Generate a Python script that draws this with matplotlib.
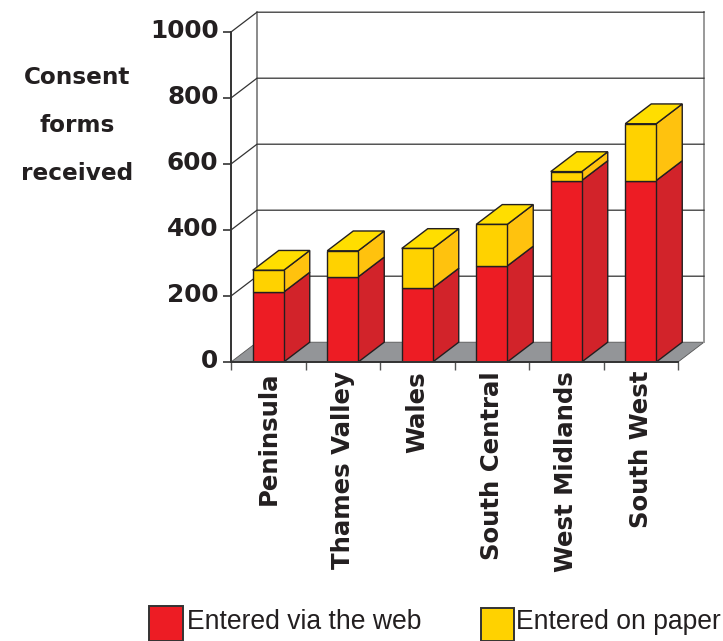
import matplotlib

matplotlib.use("Agg")

import matplotlib.pyplot as plt
from matplotlib.patches import Rectangle
from matplotlib.transforms import ScaledTranslation

regions = ["Peninsula", "Thames Valley", "Wales", "South Central", "West Midlands", "South West"]
web = [212, 258, 224, 291, 550, 550]
paper = [66, 79, 120, 126, 27, 172]
y_ticks = [0, 200, 400, 600, 800, 1000]

RED, RED_SIDE = "#ED1C24", "#D2232A"
YEL, YEL_SIDE, YEL_TOP = "#FFD200", "#FFC20E", "#FFDE00"
EDGE = "#231F20"
FLOOR = "#939598"

W, H = 723, 641
# 3d offset of the chart, in data units
DX, DY = 0.349, 60
BAR_W = 0.416


def box(ax, i, bottom, height, front, side, top=None):
    x0 = i + 0.5 - BAR_W / 2
    x1 = x0 + BAR_W
    y0, y1 = bottom, bottom + height
    ax.bar(i + 0.5, height, BAR_W, bottom=bottom, color=front, edgecolor=EDGE, linewidth=1, zorder=5)
    ax.fill([x1, x1 + DX, x1 + DX, x1], [y0, y0 + DY, y1 + DY, y1],
            facecolor=side, edgecolor=EDGE, linewidth=1, zorder=4, clip_on=False)
    if top:
        ax.fill([x0, x0 + DX, x1 + DX, x1], [y1, y1 + DY, y1 + DY, y1],
                facecolor=top, edgecolor=EDGE, linewidth=1, zorder=4, clip_on=False)


fig = plt.figure(figsize=(W / 100, H / 100), dpi=100)
ax = fig.add_axes([231 / W, (H - 362) / H, 447 / W, 330 / H])
ax.set_xlim(0, 6)
ax.set_ylim(0, 1000)
for s in ["top", "right", "bottom"]:
    ax.spines[s].set_visible(False)
ax.spines["left"].set_color("#333333")
ax.spines["left"].set_linewidth(1.4)
ax.patch.set_visible(False)

# floor and walls
ax.fill([0, 6, 6 + DX, DX], [0, 0, DY, DY], facecolor=FLOOR, edgecolor="#555555", linewidth=0.6, zorder=1, clip_on=False)
ax.plot([0, 6], [0, 0], color="#333333", linewidth=1.4, zorder=6, clip_on=False)
ax.plot([DX, DX], [DY, 1000 + DY], color="#777777", linewidth=1.2, zorder=2, clip_on=False)
ax.plot([6 + DX, 6 + DX], [DY, 1000 + DY], color="#999999", linewidth=1.4, zorder=2, clip_on=False)
for v in y_ticks[1:]:
    ax.plot([0, DX, 6 + DX], [v, v + DY, v + DY], color="#333333", linewidth=0.9, zorder=2, clip_on=False)

for i in range(len(regions)):
    box(ax, i, 0, web[i], RED, RED_SIDE)
    box(ax, i, web[i], paper[i], YEL, YEL_SIDE, YEL_TOP)

ax.set_yticks(y_ticks)
ax.set_yticklabels(y_ticks, fontsize=17.8, fontweight="bold", color="#231F20")
ax.tick_params(axis="y", length=6, width=1.2, color="#333333", pad=3)
# labels sit a little above their ticks
up = ScaledTranslation(0, 3.5 / 100, fig.dpi_scale_trans)
for lab in ax.get_yticklabels():
    lab.set_transform(lab.get_transform() + up)

ax.set_xticks(range(7))
ax.set_xticklabels([])
ax.set_xticks([i + 0.5 for i in range(6)], minor=True)
ax.set_xticklabels(regions, minor=True, rotation=90, fontsize=17.6, fontweight="bold", color="#231F20")
ax.tick_params(axis="x", which="major", length=6, width=1, color="#555555")
ax.tick_params(axis="x", which="minor", length=0, pad=6.5)

for txt, y in [("Consent", 77), ("forms", 126), ("received", 174)]:
    fig.text(77 / W, 1 - y / H, txt, ha="center", va="center", fontsize=16.7, fontweight="bold", color="#231F20")

# legend runs off the bottom of the picture
fig.add_artist(Rectangle((149 / W, 0), 34 / W, 35 / H, transform=fig.transFigure,
                         facecolor=RED, edgecolor="#333333", linewidth=1.4))
fig.add_artist(Rectangle((481 / W, 0), 33 / W, 33 / H, transform=fig.transFigure,
                         facecolor=YEL, edgecolor="#333333", linewidth=1.4))
fig.text(187 / W, 1 - 622 / H, "Entered via the web", ha="left", va="center", fontsize=19.1,
         family="Liberation Sans", color="#231F20")
fig.text(516 / W, 1 - 622 / H, "Entered on paper", ha="left", va="center", fontsize=19.1,
         family="Liberation Sans", color="#231F20")

fig.savefig("out.png", dpi=100)
